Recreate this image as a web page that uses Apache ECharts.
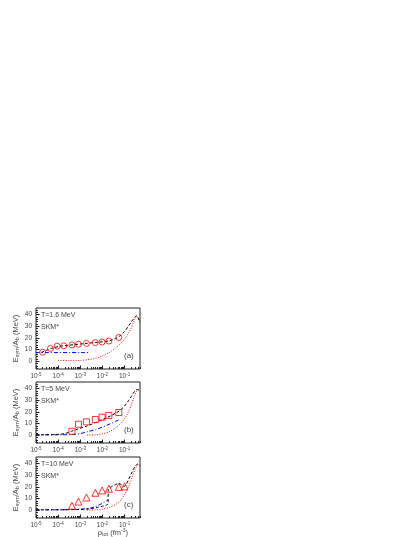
<!DOCTYPE html>
<html>
<head>
<meta charset="utf-8">
<script src="https://cdn.jsdelivr.net/npm/echarts@6/dist/echarts.min.js"></script>
<style>
  html, body { margin: 0; background: #fff; }
  #chart { width: 415px; height: 537px; }
</style>
</head>
<body>
<div id="chart"></div>
<script>
// panel (a) T=1.6 MeV
const densA = [2e-5, 4.5e-5, 9e-5, 1.8e-4, 4.2e-4, 8.3e-4, 1.9e-3, 4.8e-3, 9.7e-3, 1.96e-2, 5.5e-2]
const esymA = [7.8, 11, 13, 13.3, 14, 14.6, 15.3, 16, 16.5, 17.3, 20.4]
const dashXA = [1.7e-5, 3e-5, 5e-5, 1e-4, 2e-4, 5e-4, 1e-3, 2e-3, 5e-3, 1e-2, 2e-2, 4e-2, 6e-2, 0.1, 0.15, 0.2, 0.25, 0.3, 0.35, 0.4, 0.45, 0.5]
const dashYA = [7.5, 9.5, 11, 12.6, 13.4, 14.2, 14.8, 15.4, 16.1, 16.7, 17.5, 19.5, 21.5, 25.5, 30, 33.5, 36, 38, 38.8, 37.5, 35.5, 33]
const dotXA = [1e-4, 3e-4, 1e-3, 2e-3, 4e-3, 7e-3, 1e-2, 2e-2, 4e-2, 7e-2, 0.1, 0.15, 0.2, 0.25, 0.3, 0.35, 0.4, 0.45, 0.5]
const dotYA = [0.8, 0.8, 0.9, 1.3, 2.3, 3.5, 4.8, 7.5, 11.5, 15.5, 19, 24, 28.5, 33, 36.5, 38.5, 37.5, 35.5, 33]
const dashDotXA = [1e-5, 2.6e-3]
const dashDotYA = [7.5, 7.5]

// panel (b) T=5 MeV
const densB = [4.2e-4, 8.3e-4, 1.9e-3, 4.8e-3, 9.7e-3, 1.96e-2, 5.5e-2]
const esymB = [3.5, 9.5, 11.5, 13.5, 15.5, 17, 19.5]
const dashXB = [1e-5, 3e-5, 1e-4, 2e-4, 4e-4, 8e-4, 2e-3, 5e-3, 1e-2, 2e-2, 4e-2, 6e-2, 0.1, 0.15, 0.2, 0.25, 0.3, 0.35, 0.4, 0.45, 0.5]
const dashYB = [0.5, 0.5, 0.8, 1.5, 3.5, 5.5, 8, 11, 13.5, 16, 19, 21, 25, 29.5, 33, 36, 38, 39, 39, 38.5, 37.5]
const dotXB = [2e-3, 5e-3, 1e-2, 2e-2, 4e-2, 7e-2, 0.1, 0.15, 0.2, 0.25, 0.3, 0.35, 0.4, 0.45, 0.5]
const dotYB = [0.2, 0.5, 1.3, 3, 6.5, 10.5, 14, 20, 26, 31, 35, 37.5, 39, 38.5, 37.5]
const dashDotXB = [1e-5, 1e-4, 5e-4, 1e-3, 2e-3, 5e-3, 1e-2, 2e-2, 4e-2, 6e-2]
const dashDotYB = [0.5, 0.5, 0.8, 1.5, 3, 5, 7, 9.5, 12, 13.5]

// panel (c) T=10 MeV
const densC = [4.2e-4, 8.3e-4, 1.9e-3, 4.8e-3, 9.7e-3, 1.96e-2, 5.5e-2, 0.1]
const esymC = [4, 7.5, 11, 15, 17, 18.5, 20, 20.5]
const dashXC = [1e-5, 1e-4, 1e-3, 3e-3, 6e-3, 1e-2, 1.5e-2, 1.8e-2, 1.85e-2, 2.5e-2, 4e-2, 5.5e-2, 7e-2, 0.09, 0.11, 0.15, 0.2, 0.25, 0.3, 0.35, 0.4, 0.45, 0.5]
const dashYC = [0.5, 0.5, 0.8, 1.5, 2.5, 3.5, 4.5, 5.5, 18, 20, 22, 23, 22, 20.5, 21, 26, 31, 35, 37.5, 39, 39.5, 39, 38]
const dotXC = [2e-3, 5e-3, 1e-2, 2e-2, 4e-2, 7e-2, 0.1, 0.15, 0.2, 0.25, 0.3, 0.35, 0.4, 0.45, 0.5]
const dotYC = [0.2, 0.5, 1, 2.5, 5, 9, 13.5, 20, 26, 31, 35, 37.5, 39, 39, 38]
const dashDotXC = [1e-5, 1e-4, 1e-3, 3e-3, 6e-3, 1e-2, 1.8e-2]
const dashDotYC = [0.5, 0.5, 1, 2, 4, 6, 9]

const xMajor = [1e-5, 1e-4, 1e-3, 1e-2, 1e-1]
const yMajor = [0, 10, 20, 30, 40]
const tempLabels = ['T=1.6 MeV', 'T=5 MeV', 'T=10 MeV']
const panelTags = ['(a)', '(b)', '(c)']

const xMinor = xMajor.flatMap((d) => [2, 3, 4, 5, 6, 7, 8, 9].map((k) => +(k * d).toPrecision(3))).filter((v) => v <= 0.5)
const yMinor = []
for (let v = -6; v <= 44; v += 2) if (v % 10 !== 0) yMinor.push(v)

const panels = [
  { top: 308, height: 61 },
  { top: 382, height: 61 },
  { top: 457, height: 61 }
]
const left = 36
const width = 104
const font = 'Liberation Sans, Arial, sans-serif'
const textColor = '#444'
const red = '#ff0000'
const blue = '#0000ff'

function zip(xs, ys) {
  return xs.map((x, i) => [x, ys[i]])
}

function logLabel(v) {
  const exp = Math.round(Math.log10(v))
  return '{b|10}{s|' + String(exp) + '}'
}

const grids = []
const xAxes = []
const yAxes = []
const series = []
const graphics = []

const panelData = [
  { pts: zip(densA, esymA), symbol: 'circle', size: 6, dash: zip(dashXA, dashYA), dot: zip(dotXA, dotYA), dashDot: zip(dashDotXA, dashDotYA) },
  { pts: zip(densB, esymB), symbol: 'rect', size: 6, dash: zip(dashXB, dashYB), dot: zip(dotXB, dotYB), dashDot: zip(dashDotXB, dashDotYB) },
  { pts: zip(densC, esymC), symbol: 'triangle', size: 7, dash: zip(dashXC, dashYC), dot: zip(dotXC, dotYC), dashDot: zip(dashDotXC, dashDotYC) }
]

panels.forEach((p, i) => {
  grids.push({
    left, top: p.top, width, height: p.height,
    show: true, borderColor: '#222', borderWidth: 1, backgroundColor: 'transparent'
  })
  const xBase = {
    gridIndex: i, type: 'log', logBase: 10, min: 1e-5, max: 0.5, position: 'bottom',
    axisLine: { show: false, onZero: false }, splitLine: { show: false }, minorTick: { show: false }
  }
  xAxes.push({
    ...xBase,
    axisTick: { inside: true, length: 3.5, customValues: xMajor, lineStyle: { color: '#222' } },
    axisLabel: {
      customValues: xMajor, margin: 3, color: textColor, fontFamily: font,
      formatter: logLabel,
      rich: {
        b: { fontSize: 6.5, fontFamily: font, color: textColor },
        s: { fontSize: 4.5, fontFamily: font, color: textColor, padding: [0, 0, 4, 0] }
      }
    }
  })
  xAxes.push({
    ...xBase,
    axisTick: { inside: true, length: 2, customValues: xMinor, lineStyle: { color: '#222' } },
    axisLabel: { show: false }
  })
  const yBase = {
    gridIndex: i, type: 'value', min: -6.5, max: 45.5, position: 'left',
    axisLine: { show: false, onZero: false }, splitLine: { show: false }
  }
  yAxes.push({
    ...yBase,
    axisTick: { inside: true, length: 3.5, customValues: yMajor, lineStyle: { color: '#222' } },
    axisLabel: { customValues: yMajor, margin: 4, fontSize: 6.5, color: textColor, fontFamily: font },
    name: '{e|E}{s|sym}{e|/A}{s|b}{e| (MeV)}',
    nameLocation: 'middle', nameGap: 14, nameRotate: 90,
    nameTextStyle: {
      rich: {
        e: { fontSize: 7.5, fontFamily: font, color: textColor },
        s: { fontSize: 5.5, fontFamily: font, color: textColor, padding: [3, 0, 0, 0] }
      }
    }
  })
  yAxes.push({
    ...yBase,
    axisTick: { inside: true, length: 2, customValues: yMinor, lineStyle: { color: '#222' } },
    axisLabel: { show: false }
  })

  const d = panelData[i]
  const axisRef = { xAxisIndex: 2 * i, yAxisIndex: 2 * i }
  series.push({
    type: 'line', ...axisRef, data: d.dot, showSymbol: false, smooth: 0.3, color: red,
    lineStyle: { color: red, width: 1, type: [1, 1.5] }, z: 2
  })
  series.push({
    type: 'line', ...axisRef, data: d.dashDot, showSymbol: false, smooth: 0.3, color: blue,
    lineStyle: { color: blue, width: 1, type: [4, 2, 1, 2] }, z: 2
  })
  series.push({
    type: 'line', ...axisRef, data: d.dash, showSymbol: false, smooth: 0.3, color: '#000',
    lineStyle: { color: '#000', width: 1, type: [3, 2] }, z: 3
  })
  series.push({
    type: 'scatter', ...axisRef, data: d.pts, symbol: d.symbol, symbolSize: d.size,
    itemStyle: { color: 'rgba(0,0,0,0)', borderColor: red, borderWidth: 1 }, z: 4
  })

  graphics.push({
    type: 'text', left: 41, top: p.top + 4,
    style: { text: tempLabels[i], fontSize: 7, fontFamily: font, fill: textColor }
  })
  graphics.push({
    type: 'text', left: 41, top: p.top + 16,
    style: { text: 'SKM*', fontSize: 7, fontFamily: font, fill: textColor }
  })
  graphics.push({
    type: 'text', left: 124, top: p.top + p.height - 17,
    style: { text: panelTags[i], fontSize: 8, fontFamily: font, fill: textColor }
  })
})

graphics.push({
  type: 'text', right: 415 - 128, top: 528,
  style: {
    text: '{r|\u03c1}{s|tot}{r| (fm}{u|-3}{r|)}',
    fontFamily: font,
    rich: {
      r: { fontSize: 7.5, fontFamily: font, fill: textColor },
      s: { fontSize: 5.5, fontFamily: font, fill: textColor, padding: [3, 0, 0, 0] },
      u: { fontSize: 5, fontFamily: font, fill: textColor, padding: [0, 0, 4, 0] }
    }
  }
})

const chart = echarts.init(document.getElementById('chart'), null, { renderer: 'canvas' })
chart.setOption({
  animation: false,
  backgroundColor: '#fff',
  grid: grids,
  xAxis: xAxes,
  yAxis: yAxes,
  series,
  graphic: graphics
})
</script>
</body>
</html>
